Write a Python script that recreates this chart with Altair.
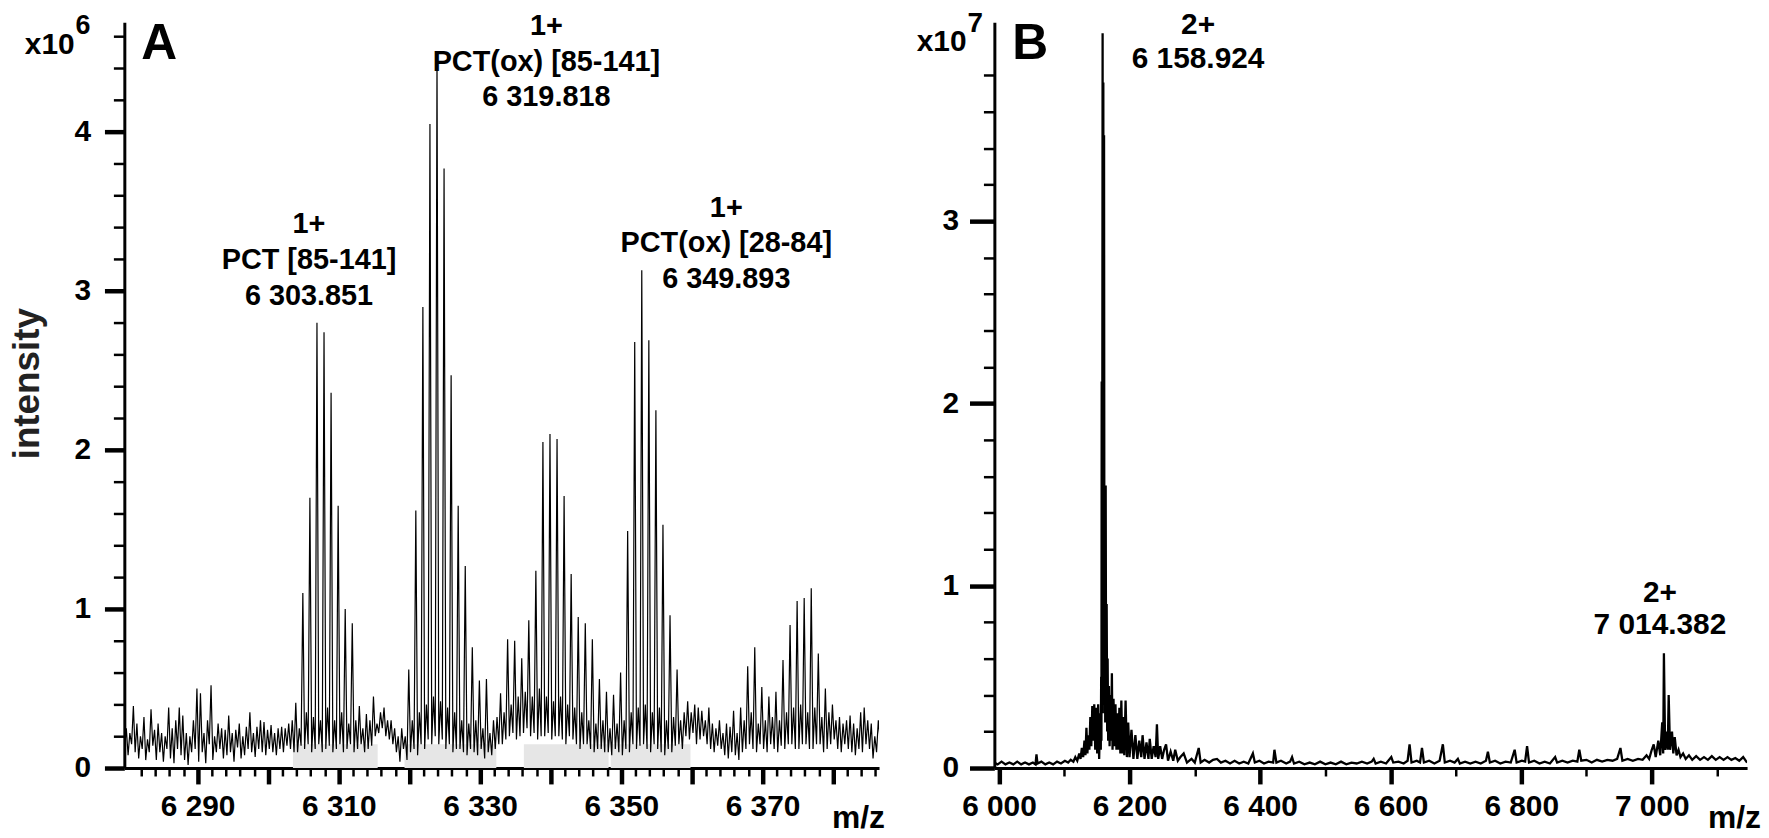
import altair as alt
import pandas as pd

# ---------------- Panel A : m/z 6279.6 - 6386.5, intensity in units of 1e6 ----------------
A_START = 6279.15
A_STEP = 0.25
A_INTENSITY = [
    0.10, 0.30, 0.12, 0.25,  0.08, 0.22, 0.15, 0.39,  0.10, 0.28, 0.06, 0.20,  0.12, 0.32, 0.05, 0.18,
    0.10, 0.37, 0.14, 0.24,  0.05, 0.28, 0.10, 0.22,  0.04, 0.20, 0.12, 0.38,  0.06, 0.25, 0.03, 0.30,
    0.12, 0.38, 0.08, 0.33,  0.05, 0.22, 0.02, 0.20,  0.10, 0.30, 0.12, 0.50,  0.04, 0.47, 0.10, 0.22,
    0.03, 0.30, 0.15, 0.52,  0.05, 0.20, 0.10, 0.28,  0.12, 0.25, 0.06, 0.24,  0.08, 0.33, 0.10, 0.22,
    0.04, 0.24, 0.13, 0.28,  0.06, 0.20, 0.08, 0.26,  0.12, 0.35, 0.10, 0.22,  0.07, 0.26, 0.12, 0.30,
    0.10, 0.29, 0.08, 0.24,  0.12, 0.27, 0.10, 0.22,  0.08, 0.25, 0.12, 0.26,  0.10, 0.25, 0.14, 0.28,
    0.12, 0.30, 0.10, 0.41,  0.10, 0.25, 0.14, 1.10,  0.12, 0.35, 0.15, 1.70,  0.10, 0.32, 0.12, 2.80,
    0.15, 0.30, 0.10, 2.74,  0.12, 0.38, 0.14, 2.36,  0.10, 0.30, 0.12, 1.65,  0.15, 0.35, 0.10, 1.00,
    0.12, 0.28, 0.15, 0.91,  0.10, 0.30, 0.12, 0.39,  0.15, 0.25, 0.10, 0.34,  0.12, 0.30, 0.14, 0.45,
    0.20, 0.28, 0.22, 0.35,  0.25, 0.38, 0.20, 0.30,  0.18, 0.30, 0.15, 0.25,  0.10, 0.20, 0.04, 0.25,
    0.12, 0.20, 0.05, 0.62,  0.10, 0.30, 0.12, 1.62,  0.08, 0.35, 0.15, 2.90,  0.12, 0.40, 0.18, 4.05,
    0.15, 0.45, 0.20, 4.48,  0.15, 0.42, 0.18, 3.77,  0.12, 0.38, 0.15, 2.47,  0.10, 0.35, 0.12, 1.65,
    0.12, 0.30, 0.10, 1.27,  0.08, 0.28, 0.12, 0.76,  0.10, 0.30, 0.08, 0.55,  0.12, 0.25, 0.06, 0.56,
    0.10, 0.22, 0.08, 0.30,  0.12, 0.32, 0.15, 0.47,  0.15, 0.35, 0.18, 0.81,  0.20, 0.40, 0.22, 0.80,
    0.18, 0.45, 0.20, 0.69,  0.22, 0.48, 0.25, 0.93,  0.20, 0.45, 0.22, 1.24,  0.18, 0.50, 0.20, 2.05,
    0.20, 0.45, 0.22, 2.10,  0.18, 0.42, 0.20, 2.07,  0.20, 0.45, 0.18, 1.71,  0.15, 0.40, 0.20, 1.22,
    0.18, 0.38, 0.15, 0.95,  0.12, 0.35, 0.15, 0.91,  0.15, 0.30, 0.12, 0.81,  0.10, 0.28, 0.12, 0.56,
    0.12, 0.30, 0.10, 0.48,  0.10, 0.25, 0.08, 0.46,  0.12, 0.28, 0.10, 0.60,  0.08, 0.30, 0.12, 1.49,
    0.10, 0.35, 0.15, 2.68,  0.12, 0.38, 0.14, 3.13,  0.15, 0.40, 0.12, 2.69,  0.10, 0.35, 0.15, 2.25,
    0.12, 0.38, 0.10, 1.53,  0.08, 0.30, 0.12, 0.96,  0.10, 0.32, 0.14, 0.62,  0.15, 0.30, 0.12, 0.35,
    0.20, 0.42, 0.18, 0.35,  0.22, 0.40, 0.15, 0.38,  0.18, 0.36, 0.20, 0.30,  0.15, 0.38, 0.12, 0.28,
    0.10, 0.25, 0.14, 0.30,  0.12, 0.22, 0.08, 0.28,  0.06, 0.26, 0.10, 0.36,  0.08, 0.22, 0.05, 0.38,
    0.10, 0.30, 0.12, 0.64,  0.15, 0.35, 0.12, 0.76,  0.10, 0.28, 0.15, 0.51,  0.12, 0.30, 0.10, 0.45,
    0.15, 0.32, 0.12, 0.48,  0.10, 0.30, 0.14, 0.68,  0.12, 0.35, 0.15, 0.90,  0.15, 0.38, 0.12, 1.05,
    0.12, 0.40, 0.15, 1.07,  0.15, 0.35, 0.12, 1.13,  0.12, 0.38, 0.15, 0.72,  0.15, 0.32, 0.10, 0.50,
    0.12, 0.35, 0.15, 0.40,  0.18, 0.30, 0.12, 0.32,  0.10, 0.28, 0.15, 0.30,  0.12, 0.33, 0.10, 0.28,
    0.08, 0.25, 0.12, 0.35,  0.10, 0.38, 0.15, 0.30,  0.12, 0.28, 0.06, 0.20,  0.10, 0.30, 0.18, 0.25,
]
A_X_DOMAIN = [6279.62, 6386.5]
A_Y_DOMAIN = [0, 4.69]
A_SHADE_START = [6303.5, 6319.3, 6336.2, 6348.5]
A_SHADE_END = [6315.5, 6332.3, 6348.2, 6359.8]
SHADE_TOP = 0.15

A_LABELS = ["1+\nPCT [85-141]\n6 303.851", "1+\nPCT(ox) [85-141]\n6 319.818", "1+\nPCT(ox) [28-84]\n6 349.893"]
A_LABEL_MZ = [6306.9, 6323.9, 6352.9]
A_LABEL_INT = [2.80, 4.48, 3.13]

# ---------------- Panel B : m/z 5993 - 7146, intensity in units of 1e7 ----------------
B_MZ = [
    5993, 5998, 6004, 6010, 6016, 6022, 6028, 6034, 6040, 6046, 6052, 6056, 6057.5, 6059, 6065, 6071,
    6077, 6083, 6089, 6095, 6101, 6106, 6110, 6114, 6117, 6120, 6123, 6125, 6127, 6129, 6131, 6132.5,
    6134, 6135.5, 6137, 6138.5, 6140, 6141.5, 6143, 6144.5, 6146, 6147.5, 6149, 6150.5, 6152, 6153.5,
    6155, 6156, 6156.6, 6157.0, 6157.4, 6158.0, 6158.8, 6159.3, 6159.9, 6160.4, 6161.0, 6161.6, 6162.3,
    6162.8, 6163.5, 6164.2, 6165.0, 6165.8, 6166.5, 6167.3, 6168.5, 6169.5, 6171, 6172, 6173, 6174,
    6175.5, 6177, 6178.5, 6180, 6181.5, 6183, 6184.5, 6186, 6187.5, 6189, 6190.5, 6192, 6194, 6196,
    6198, 6200, 6203, 6206, 6209, 6212, 6215, 6218, 6220, 6223, 6226, 6229, 6231, 6234, 6237, 6240,
    6242, 6244, 6247, 6250, 6253, 6256, 6259, 6263, 6267, 6270, 6274, 6278, 6283, 6288, 6295, 6300,
    6306, 6309, 6315, 6322, 6328, 6334, 6340, 6347, 6354, 6361, 6368, 6375, 6382, 6389, 6392, 6399,
    6406, 6413, 6420, 6422, 6425, 6432, 6440, 6446, 6449, 6452, 6460, 6468, 6476, 6484, 6492, 6500,
    6508, 6516, 6524, 6532, 6540, 6548, 6556, 6564, 6571, 6574, 6577, 6585, 6593, 6601, 6604, 6612,
    6620, 6626, 6629, 6632, 6640, 6645, 6648, 6651, 6659, 6667, 6675, 6680, 6683, 6691, 6698, 6703,
    6706, 6714, 6722, 6730, 6738, 6746, 6749, 6752, 6760, 6768, 6776, 6784, 6790, 6793, 6801, 6806,
    6809, 6812, 6820, 6828, 6836, 6844, 6852, 6855, 6863, 6871, 6879, 6886, 6889, 6892, 6900, 6908,
    6916, 6924, 6932, 6940, 6947, 6952, 6955, 6963, 6971, 6979, 6986, 6992, 6996, 7000, 7003, 7006,
    7010, 7013, 7016, 7017.5, 7018.6, 7020.5, 7023, 7024.5, 7025.9, 7028, 7031, 7033, 7035.2, 7038,
    7041, 7044, 7048, 7052, 7057, 7062, 7068, 7074, 7080, 7086, 7092, 7098, 7104, 7110, 7116, 7122,
    7128, 7134, 7140, 7146,
]
B_INTENSITY = [
    0.03, 0.02, 0.035, 0.02, 0.03, 0.02, 0.035, 0.02, 0.03, 0.02, 0.03, 0.02, 0.075, 0.025, 0.035, 0.02,
    0.03, 0.02, 0.035, 0.025, 0.04, 0.03, 0.045, 0.035, 0.06, 0.04, 0.08, 0.05, 0.11, 0.06, 0.15, 0.07,
    0.22, 0.08, 0.18, 0.10, 0.28, 0.12, 0.34, 0.15, 0.35, 0.10, 0.33, 0.08, 0.35, 0.05,
    0.30, 0.10, 0.50, 0.15, 2.12, 0.30, 4.03, 0.40, 3.76, 0.35, 3.47, 0.30, 1.20,
    0.25, 1.55, 0.25, 0.90, 0.20, 0.60, 0.15, 0.45, 0.12, 0.40, 0.15, 0.52, 0.10,
    0.38, 0.12, 0.35, 0.10, 0.30, 0.10, 0.33, 0.08, 0.37, 0.08, 0.28, 0.07, 0.37, 0.06,
    0.25, 0.06, 0.21, 0.05, 0.18, 0.05, 0.15, 0.06, 0.18, 0.05, 0.14, 0.05, 0.16, 0.05, 0.12, 0.06,
    0.24, 0.05, 0.12, 0.05, 0.10, 0.13, 0.04, 0.09, 0.04, 0.10, 0.04, 0.06, 0.08, 0.03, 0.05, 0.03,
    0.11, 0.03, 0.045, 0.03, 0.045, 0.05, 0.03, 0.04, 0.025, 0.04, 0.025, 0.035, 0.025, 0.08, 0.03, 0.04,
    0.025, 0.035, 0.03, 0.10, 0.03, 0.04, 0.025, 0.035, 0.06, 0.025, 0.035, 0.02, 0.03, 0.02, 0.035, 0.02,
    0.03, 0.02, 0.035, 0.02, 0.03, 0.025, 0.035, 0.025, 0.035, 0.05, 0.025, 0.035, 0.025, 0.06, 0.03, 0.035,
    0.025, 0.04, 0.13, 0.03, 0.04, 0.03, 0.11, 0.03, 0.04, 0.025, 0.04, 0.13, 0.03, 0.04, 0.03, 0.05,
    0.025, 0.035, 0.025, 0.035, 0.025, 0.04, 0.09, 0.03, 0.04, 0.025, 0.035, 0.03, 0.10, 0.03, 0.04, 0.035,
    0.12, 0.03, 0.04, 0.025, 0.035, 0.025, 0.06, 0.03, 0.04, 0.03, 0.04, 0.035, 0.10, 0.04, 0.045, 0.03,
    0.045, 0.035, 0.045, 0.04, 0.05, 0.11, 0.04, 0.05, 0.04, 0.05, 0.045, 0.07, 0.05, 0.10, 0.13, 0.06,
    0.15, 0.07, 0.25, 0.08, 0.63, 0.10, 0.20, 0.10, 0.40, 0.10, 0.20, 0.08, 0.17, 0.07,
    0.10, 0.06, 0.08, 0.05, 0.07, 0.045, 0.065, 0.045, 0.06, 0.045, 0.065, 0.045, 0.06, 0.045, 0.06, 0.045,
    0.055, 0.04, 0.06, 0.03,
]
B_X_DOMAIN = [5993, 7146]
B_Y_DOMAIN = [0, 4.09]

B_LABELS = ["2+\n6 158.924", "2+\n7 014.382"]
B_LABEL_MZ = [6158.8, 7018.6]
B_LABEL_INT = [4.03, 0.63]

# tick positions
A_X_TICKS = list(range(6282, 6387, 2))
A_Y_TICKS = [round(0.2 * i, 1) for i in range(24)]
B_X_TICKS = list(range(6000, 7101, 100))
B_Y_TICKS = [round(0.2 * i, 1) for i in range(20)]

FONT = "Liberation Sans"
W_A, W_B, H = 759, 757, 750
TICK_FS = 30
LABEL_FS = 29

INT_TEST = "abs(datum.value - round(datum.value)) < 0.001"


def x_axis(values, major_test, label_test):
    return alt.Axis(
        values=values, title=None, grid=False,
        labelExpr=f"({label_test}) ? replace(format(datum.value, ','), ',', ' ') : ''",
        tickSize={"condition": {"test": major_test, "value": 16}, "value": 8},
        tickWidth={"condition": {"test": major_test, "value": 4.5}, "value": 2.5},
        tickColor="black", domainColor="black", domainWidth=3,
        labelFont=FONT, labelFontSize=TICK_FS, labelFontWeight="bold", labelColor="black",
        labelPadding=8, labelOverlap=False, labelFlush=False, labelBound=False,
    )


def y_axis(values, major_len, pad, title=None, **kw):
    return alt.Axis(
        values=values, title=title, grid=False,
        labelExpr=f"({INT_TEST}) ? format(datum.value, 'd') : ''",
        tickSize={"condition": {"test": INT_TEST, "value": major_len}, "value": 11},
        tickWidth={"condition": {"test": INT_TEST, "value": 4.5}, "value": 2.5},
        tickColor="black", domainColor="black", domainWidth=3,
        labelFont=FONT, labelFontSize=TICK_FS, labelFontWeight="bold", labelColor="black",
        labelPadding=pad, labelOverlap=False, labelFlush=False, labelBound=False,
        labelBaseline="middle",
        **kw,
    )


AX_AX = x_axis(A_X_TICKS, "datum.value % 10 === 0", "datum.value % 20 === 10")
AX_AY = y_axis(A_Y_TICKS, 20, 14, title="intensity", titleFont=FONT, titleFontSize=37,
               titleFontWeight="bold", titleColor="#222222", titlePadding=28, titleY=363)
AX_BX = x_axis(B_X_TICKS, "datum.value % 200 === 0", "datum.value % 200 === 0")
AX_BY = y_axis(B_Y_TICKS, 25, 11)

SC_AX = alt.Scale(domain=A_X_DOMAIN, nice=False, zero=False)
SC_AY = alt.Scale(domain=A_Y_DOMAIN, nice=False)
SC_BX = alt.Scale(domain=B_X_DOMAIN, nice=False, zero=False)
SC_BY = alt.Scale(domain=B_Y_DOMAIN, nice=False)


def text_layer(txt, x, y, size=LABEL_FS, align="left", baseline="alphabetic"):
    return alt.Chart(pd.DataFrame({"t": [txt]})).mark_text(
        font=FONT, fontSize=size, fontWeight="bold", align=align, baseline=baseline, color="black"
    ).encode(x=alt.value(x), y=alt.value(y), text="t:N")


def peak_label(txt, mz, inten, xsc, ysc, xax, yax, dx, dy, line_h, size):
    df = pd.DataFrame({"mz": [mz], "i": [inten], "t": [txt]})
    return alt.Chart(df).mark_text(
        font=FONT, fontSize=size, fontWeight="bold", align="center", baseline="top",
        lineBreak="\n", lineHeight=line_h, dx=dx, dy=dy, color="black",
    ).encode(
        x=alt.X("mz:Q", scale=xsc, axis=xax),
        y=alt.Y("i:Q", scale=ysc, axis=yax),
        text="t:N",
    )


# ---------- Panel A ----------
dfA = pd.DataFrame({"mz": [A_START + A_STEP * i for i in range(len(A_INTENSITY))], "i": A_INTENSITY})
shade = pd.DataFrame({"mz": A_SHADE_START, "e": A_SHADE_END, "i": 0.0, "i2": SHADE_TOP})

lineA = alt.Chart(dfA).mark_line(color="black", strokeWidth=1.2, clip=True).encode(
    x=alt.X("mz:Q", scale=SC_AX, axis=AX_AX),
    y=alt.Y("i:Q", scale=SC_AY, axis=AX_AY),
)

shadeA = alt.Chart(shade).mark_rect(color="#e6e6e6").encode(
    x=alt.X("mz:Q", scale=SC_AX, axis=AX_AX),
    x2="e:Q",
    y=alt.Y("i:Q", scale=SC_AY, axis=AX_AY),
    y2="i2:Q",
)

a_offsets = [(-8, -113), (110, -44), (85, -77)]
labelsA = [peak_label(t, m, v, SC_AX, SC_AY, AX_AX, AX_AY, dx, dy, 36, LABEL_FS)
           for t, m, v, (dx, dy) in zip(A_LABELS, A_LABEL_MZ, A_LABEL_INT, a_offsets)]

annA = [
    text_layer("x10", -50, 32, size=30, align="right"),
    text_layer("6", -49, 12, size=27),
    text_layer("A", 17, 37, size=50),
    text_layer("m/z", W_A + 6, H + 60, size=32, align="right"),
]

chartA = alt.layer(shadeA, lineA, *labelsA, *annA).properties(width=W_A, height=H)

# ---------- Panel B ----------
dfB = pd.DataFrame({"mz": B_MZ, "i": B_INTENSITY})
lineB = alt.Chart(dfB).mark_line(color="black", strokeWidth=2.3, clip=True).encode(
    x=alt.X("mz:Q", scale=SC_BX, axis=AX_BX),
    y=alt.Y("i:Q", scale=SC_BY, axis=AX_BY),
)

b_specs = [(96, -23, 34), (-4, -75, 32)]
labelsB = [peak_label(t, m, v, SC_BX, SC_BY, AX_BX, AX_BY, dx, dy, lh, 30)
           for t, m, v, (dx, dy, lh) in zip(B_LABELS, B_LABEL_MZ, B_LABEL_INT, b_specs)]

annB = [
    text_layer("x10", -28, 29, size=30, align="right"),
    text_layer("7", -27, 10, size=28),
    text_layer("B", 18, 37, size=50),
    text_layer("m/z", W_B + 14, H + 60, size=32, align="right"),
]

chartB = alt.layer(lineB, *labelsB, *annB).properties(width=W_B, height=H)

chart = alt.hconcat(chartA, chartB, spacing=116, bounds="flush").properties(
    padding=0
).configure_view(stroke=None).configure_axis(labelOverlap=False)

chart.save("out.html", embed_options={"renderer": "svg", "actions": False})
